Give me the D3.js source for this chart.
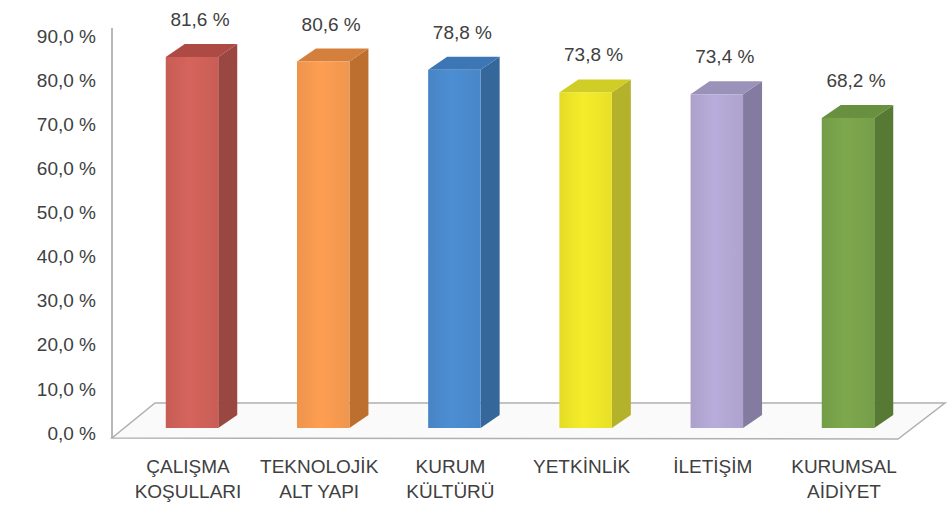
<script src="https://cdn.jsdelivr.net/npm/d3@7"></script>
<style>
  body { margin: 0; background: #fff; }
  text { font-family: "Liberation Sans", Arial, sans-serif; fill: #404040; }
</style>
<svg id="chart"></svg>
<script>
  var width = 949, height = 509;

  // data
  var categories = ["ÇALIŞMA|KOŞULLARI", "TEKNOLOJİK|ALT YAPI", "KURUM|KÜLTÜRÜ", "YETKİNLİK", "İLETİŞİM", "KURUMSAL|AİDİYET"];
  var values = [81.6, 80.6, 78.8, 73.8, 73.4, 68.2];
  var tickValues = [0, 10, 20, 30, 40, 50, 60, 70, 80, 90];
  var frontColors = ["#cf6159", "#f79a50", "#4a8acd", "#eee628", "#b3a8d4", "#79a34b"];
  var sideColors  = ["#9a4641", "#bd6f30", "#35679b", "#b3b22a", "#847ba0", "#567933"];
  var topColors   = ["#ad4a44", "#d4803c", "#3c76b4", "#cfcd26", "#9a92b8", "#68903e"];

  var depthX = 19, depthY = -13;
  var fmt = function(v) { return d3.format(".1f")(v).replace(".", ",") + " %"; };

  var svg = d3.select("#chart").attr("width", width).attr("height", height);

  // scales
  var axisY = d3.scaleLinear().domain([0, 90]).range([433, 36]);
  var barY = d3.scaleLinear().domain([0, 90]).range([428, 428 - 90 * 4.547]);
  var x = d3.scaleBand().domain(categories).range([126.4, 913.6])
    .paddingInner(0.6).paddingOuter(0.3);

  // floor
  var floor = [[112, 438], [898, 439], [945, 403], [155, 403]];
  svg.append("polygon")
    .attr("points", floor.map(function(p) { return p.join(","); }).join(" "))
    .attr("fill", "#fafafa")
    .attr("stroke", "#b0b0b0")
    .attr("stroke-width", 1.5);

  // vertical axis line
  svg.append("line")
    .attr("x1", 112).attr("x2", 112)
    .attr("y1", 28).attr("y2", 438)
    .attr("stroke", "#a0a0a0").attr("stroke-width", 1.5);

  // tick labels
  svg.selectAll(".ytick")
    .data(tickValues)
    .enter().append("text")
    .attr("class", "ytick")
    .attr("x", 96)
    .attr("y", function(d) { return axisY(d); })
    .attr("dy", "0.35em")
    .attr("text-anchor", "end")
    .style("font-size", "19px")
    .text(fmt);

  // gradients for front faces
  var defs = svg.append("defs");
  frontColors.forEach(function(c, i) {
    var g = defs.append("linearGradient").attr("id", "fg" + i)
      .attr("x1", "0%").attr("x2", "100%").attr("y1", "0%").attr("y2", "0%");
    g.append("stop").attr("offset", "0%").attr("stop-color", d3.color(c).darker(0.12));
    g.append("stop").attr("offset", "45%").attr("stop-color", d3.color(c).brighter(0.08));
    g.append("stop").attr("offset", "100%").attr("stop-color", d3.color(c).darker(0.08));
  });

  var bars = svg.selectAll(".bar")
    .data(values)
    .enter().append("g")
    .attr("class", "bar");

  function poly(pts) { return pts.map(function(p) { return p.join(","); }).join(" "); }

  // side face
  bars.append("polygon")
    .attr("points", function(d, i) {
      var x1 = x(categories[i]) + x.bandwidth(), t = barY(d), b = barY(0);
      return poly([[x1, t], [x1 + depthX, t + depthY], [x1 + depthX, b + depthY], [x1, b]]);
    })
    .attr("fill", function(d, i) { return sideColors[i]; });

  // top face
  bars.append("polygon")
    .attr("points", function(d, i) {
      var x0 = x(categories[i]), x1 = x0 + x.bandwidth(), t = barY(d);
      return poly([[x0, t], [x1, t], [x1 + depthX, t + depthY], [x0 + depthX, t + depthY]]);
    })
    .attr("fill", function(d, i) { return topColors[i]; });

  // front face
  bars.append("rect")
    .attr("x", function(d, i) { return x(categories[i]); })
    .attr("y", function(d) { return barY(d); })
    .attr("width", x.bandwidth())
    .attr("height", function(d) { return barY(0) - barY(d); })
    .attr("fill", function(d, i) { return "url(#fg" + i + ")"; });

  // value labels
  bars.append("text")
    .attr("x", function(d, i) { return x(categories[i]) + x.bandwidth() / 2 + 8; })
    .attr("y", function(d) { return barY(d) - 31; })
    .attr("text-anchor", "middle")
    .style("font-size", "19px")
    .text(fmt);

  // category labels
  svg.selectAll(".xlab")
    .data(categories)
    .enter().append("text")
    .attr("class", "xlab")
    .attr("x", function(d) { return x(d) + x.bandwidth() / 2 - 4; })
    .attr("y", 473)
    .attr("text-anchor", "middle")
    .style("font-size", "19px")
    .each(function(d) {
      var t = d3.select(this);
      var cx = t.attr("x");
      d.split("|").forEach(function(line, j) {
        t.append("tspan").attr("x", cx).attr("dy", j === 0 ? 0 : 25).text(line);
      });
    });
</script>
